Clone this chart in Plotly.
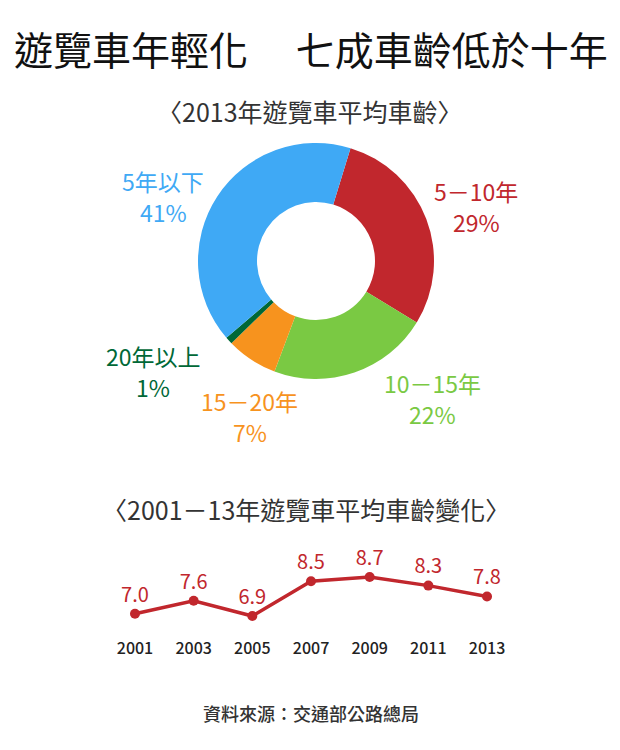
import plotly.graph_objects as go

# Donut data
age_groups = ["5－10年", "10－15年", "15－20年", "20年以上", "5年以下"]
age_shares = [29, 22, 7, 1, 41]
age_colors = ["#c1272d", "#7ac943", "#f7931e", "#006837", "#3fa9f5"]

# Line data
years = ["2001", "2003", "2005", "2007", "2009", "2011", "2013"]
avg_age = [7.0, 7.6, 6.9, 8.5, 8.7, 8.3, 7.8]

FONT = "Noto Sans CJK TC"
W, H = 620, 750

def px(x):
    return x / W

def py(y):
    return 1 - y / H

fig = go.Figure()

# Donut
cx, cy, r = 316, 261, 118
fig.add_trace(go.Pie(
    labels=age_groups, values=age_shares,
    marker=dict(colors=age_colors, line=dict(width=0)),
    hole=0.5, sort=False, direction="clockwise", rotation=17,
    textinfo="none", hoverinfo="label+percent", showlegend=False,
    domain=dict(x=[px(cx - r), px(cx + r)], y=[py(cy + r), py(cy - r)]),
))

# Line
fig.add_trace(go.Scatter(
    x=list(range(len(years))), y=avg_age,
    mode="lines+markers+text",
    text=[f"{v:.1f}" for v in avg_age],
    textposition="top center",
    textfont=dict(family=FONT, size=20, color="#c1272d"),
    line=dict(color="#c1272d", width=3.5),
    marker=dict(color="#c1272d", size=10),
    showlegend=False, cliponaxis=False,
))

# axis mapping: 21.7 px per unit, 6.9 at y=616
top_px, bot_px = 556, 637
scale = 21.7
y_bot = 6.9 - (bot_px - 616) / scale
y_top = 6.9 + (616 - top_px) / scale
left = 135 - 58.7 / 2
right = 487 + 58.7 / 2

fig.update_layout(
    width=W, height=H,
    margin=dict(l=0, r=0, t=0, b=0),
    paper_bgcolor="white", plot_bgcolor="white",
    font=dict(family=FONT),
    xaxis=dict(domain=[px(left), px(right)], range=[-0.5, 6.5],
               tickmode="array", tickvals=list(range(len(years))), ticktext=years,
               showgrid=False, zeroline=False, showline=False, ticks="",
               tickfont=dict(family=FONT, size=16, color="#222222", weight=500),
               fixedrange=True),
    yaxis=dict(domain=[py(bot_px), py(top_px)], range=[y_bot, y_top],
               visible=False, fixedrange=True),
)

annotations = [
    dict(text="遊覽車年輕化　 七成車齡低於十年", x=px(311), y=py(48), size=39, color="#111111", w=400),
    dict(text="〈2013年遊覽車平均車齡〉", x=px(310), y=py(111), size=25, color="#333333", w=400),
    dict(text="〈2001－13年遊覽車平均車齡變化〉", x=px(306), y=py(509), size=25, color="#333333", w=400),
    dict(text="資料來源：交通部公路總局", x=px(311), y=py(713), size=18, color="#333333", w=500),
]
slice_labels = [
    ("5年以下", "41%", 163, 181, "#3fa9f5"),
    ("5－10年", "29%", 476, 191, "#c1272d"),
    ("20年以上", "1%", 153, 356, "#006837"),
    ("10－15年", "22%", 432, 383, "#7ac943"),
    ("15－20年", "7%", 250, 401, "#f7931e"),
]
for name, pct, x, y, c in slice_labels:
    annotations.append(dict(text=name, x=px(x), y=py(y), size=23, color=c, w=400))
    annotations.append(dict(text=pct, x=px(x), y=py(y + 31), size=23, color=c, w=400))

for a in annotations:
    fig.add_annotation(text=a["text"], x=a["x"], y=a["y"], xref="paper", yref="paper",
                       xanchor="center", yanchor="middle", showarrow=False, borderpad=0,
                       font=dict(family=FONT, size=a["size"], color=a["color"], weight=a["w"]))

fig.write_html("out.html")
